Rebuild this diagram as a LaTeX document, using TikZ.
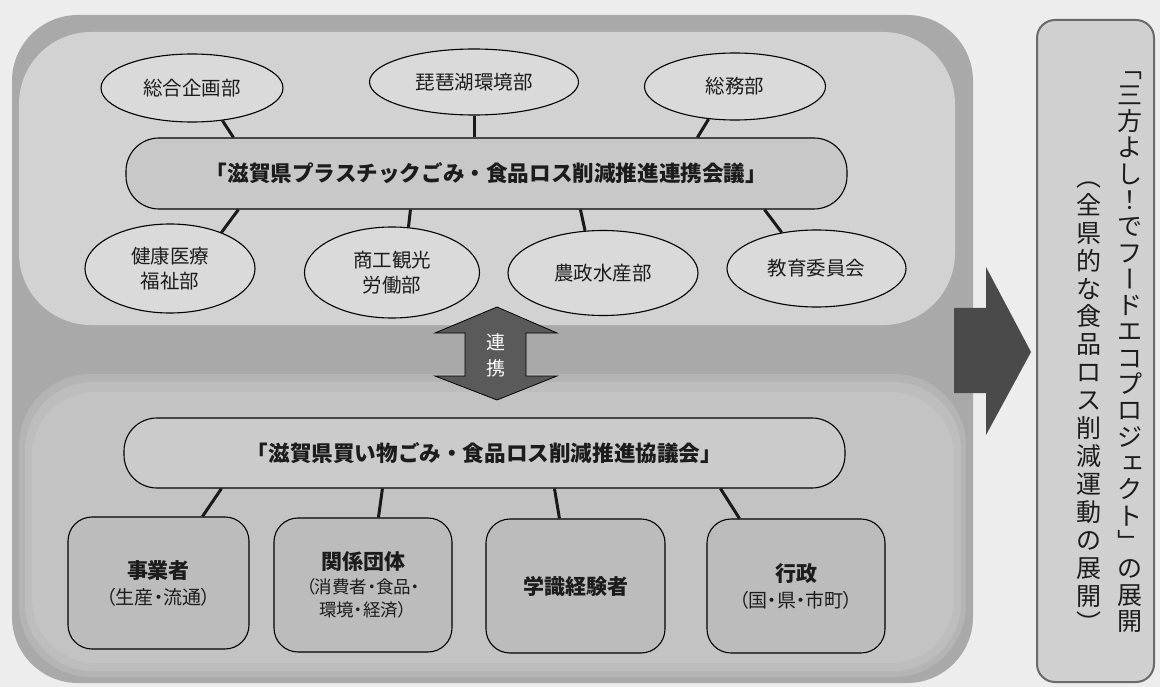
\documentclass[tikz,border=0pt]{standalone}
\usepackage{fontspec}
\usetikzlibrary{shapes.geometric,calc}
\newfontfamily\jp{Noto Sans CJK JP}
\newfontfamily\jpp[RawFeature=+palt]{Noto Sans CJK JP}
\definecolor{bgc}{HTML}{EDEDED}
\definecolor{outerc}{HTML}{A9A9A9}
\definecolor{panelc}{HTML}{D2D2D2}
\definecolor{ellc}{HTML}{DADADA}
\definecolor{pillc}{HTML}{C8C8C8}
\definecolor{lowa}{HTML}{B4B4B4}
\definecolor{lowb}{HTML}{BDBDBD}
\definecolor{lowc}{HTML}{C3C3C3}
\definecolor{lowpill}{HTML}{CBCBCB}
\definecolor{boxc}{HTML}{BCBCBC}
\definecolor{darkc}{HTML}{4A4A4A}
\definecolor{linkc}{HTML}{5A5A5A}
\definecolor{rboxc}{HTML}{D0D0D0}
\definecolor{rboxline}{HTML}{6A6A6A}
\definecolor{txt}{HTML}{1C1C1C}
\newcommand\hdfont{\jp\bfseries\fontsize{21}{26}\selectfont}
\begin{document}
\begin{tikzpicture}[x=1pt,y=-1pt,
  ell/.style={ellipse, draw=black, line width=1.1pt, fill=ellc, inner sep=0pt,
    text=txt, align=center, font=\jp\fontsize{19.5}{25}\selectfont},
  pill/.style={draw=black, line width=1.1pt, rounded corners=33pt, inner sep=0pt,
    text=txt, font=\jp\bfseries\fontsize{21.6}{26}\selectfont},
  orgbox/.style={draw=black, line width=1.1pt, fill=boxc, rounded corners=24pt,
    inner sep=0pt, text=txt, align=center, font=\jpp\fontsize{19}{26}\selectfont},
  conn/.style={line width=3pt, draw=black!90},
  vch/.style={inner sep=0pt, text=txt, font=\jp\fontsize{25}{27}\selectfont,
    text height=22pt, text depth=3pt},
  vrot/.style={vch, rotate=-90},
  linktext/.style={inner sep=0pt, text=white, font=\jp\fontsize{19}{22}\selectfont}
]
\useasboundingbox (0,0) rectangle (1160,687);
\fill[bgc] (0,0) rectangle (1160,687);
% main grey area
\fill[outerc, rounded corners=66pt] (12,15) rectangle (973,683);
\fill[lowa, rounded corners=72pt] (19,374) rectangle (966,677);
\fill[lowb, rounded corners=68pt] (25,382) rectangle (961,671);
\fill[lowc, rounded corners=64pt] (32,392) rectangle (954,663);
\fill[panelc, rounded corners=72pt] (19,32) rectangle (955,325);

% right arrow
\fill[darkc] (954,308) -- (986,308) -- (986,267) -- (1031,352) -- (986,435) -- (986,393) -- (954,393) -- cycle;

% right box
\node[draw=rboxline, line width=2pt, fill=rboxc, rounded corners=18pt,
  minimum width=117pt, minimum height=662pt, inner sep=0pt] (rb) at (1095.5,351) {};
% right column: 「三方よし！でフードエコプロジェクト」の展開
\foreach \c [count=\i from 0] in {,三,方,よ,し,！,で,フ,,ド,エ,コ,プ,ロ,ジ,,ク,ト,,の,展,開}
  \node[vch] (r\i) at (1130,{68.5+\i*26.3}) {\c};
\node[vrot] (ra) at (r0) {「};
\node[vrot] (rb8) at (r8) {ー};
\node[vch, xshift=3pt, yshift=3pt] (rsmall) at (r15) {ェ};
\node[vrot] (rc) at (r18) {」};
% left column: （全県的な食品ロス削減運動の展開）
\foreach \c [count=\i from 0] in {,全,県,的,な,食,品,ロ,ス,削,減,運,動,の,展,開,}
  \node[vch] (l\i) at (1089,{177+\i*27.9}) {\c};
\node[vrot] (la) at (l0) {（};
\node[vrot] (lb) at (l16) {）};

% upper ellipses
\node[ell, minimum width=182pt, minimum height=68pt] (e1) at (192,88) {総合企画部};
\node[ell, minimum width=209pt, minimum height=66pt] (e2) at (474,82) {琵琶湖環境部};
\node[ell, minimum width=181pt, minimum height=67pt] (e3) at (735,86.5) {総務部};
\node[pill, fill=pillc, minimum width=721pt, minimum height=71pt] (p1) at (486.5,173.5)
  {「滋賀県プラスチックごみ・食品ロス削減推進連携会議」};
\node[ell, minimum width=170pt, minimum height=89pt] (e4) at (170,268.5) {健康医療\\福祉部};
\node[ell, minimum width=175pt, minimum height=91pt] (e5) at (392,272.5) {商工観光\\労働部};
\node[ell, minimum width=190pt, minimum height=85pt] (e6) at (603,273) {農政水産部};
\node[ell, minimum width=179pt, minimum height=77pt] (e7) at (816.5,268.5) {教育委員会};

\draw[conn] (e1.-47) -- ($(p1.north west)+(108,0)$);
\draw[conn] (e2.south) -- (e2.south |- p1.north);
\draw[conn] (e3.-129) -- ($(p1.north west)+(572,0)$);
\draw[conn] (e4.35) -- ($(p1.south west)+(113,0)$);
\draw[conn] (e5.70) -- ($(p1.south west)+(285,0)$);
\draw[conn] (e6.113) -- ($(p1.south west)+(455,0)$);
\draw[conn] (e7.134) -- ($(p1.south west)+(639,0)$);

% link double arrow
\filldraw[fill=linkc, draw=black, line width=0.8pt]
  (497,307) -- (557,333) -- (526,333) -- (526,376) -- (557,376) -- (497,400)
  -- (435,376) -- (465,376) -- (465,333) -- (435,333) -- cycle;
\node[linktext] (k1) at (496,342) {連};
\node[linktext] (k2) at (496,368) {携};

% lower part
\node[pill, fill=lowpill, minimum width=721pt, minimum height=70pt] (p2) at (484.5,453)
  {「滋賀県買い物ごみ・食品ロス削減推進協議会」};
\node[orgbox, minimum width=181pt, minimum height=132pt] (b1) at (158.5,583)
  {{\hdfont 事業者}\\（生産・流通）};
\node[orgbox, minimum width=178pt, minimum height=134pt, font=\jpp\fontsize{17.5}{23.5}\selectfont] (b2) at (363,585)
  {{\hdfont 関係団体}\\（消費者・食品・\\環境・経済）};
\node[orgbox, minimum width=179pt, minimum height=134pt] (b3) at (575.5,586)
  {{\hdfont 学識経験者}};
\node[orgbox, minimum width=178pt, minimum height=134pt] (b4) at (796,586)
  {{\hdfont 行政}\\（国・県・市町）};

\draw[conn] ($(p2.south west)+(98,0)$) -- ($(b1.north west)+(135,0)$);
\draw[conn] ($(p2.south west)+(259,0)$) -- ($(b2.north west)+(105,0)$);
\draw[conn] ($(p2.south west)+(431,0)$) -- ($(b3.north west)+(74,0)$);
\draw[conn] ($(p2.south west)+(597,0)$) -- ($(b4.north west)+(33,0)$);
\end{tikzpicture}
\end{document}
